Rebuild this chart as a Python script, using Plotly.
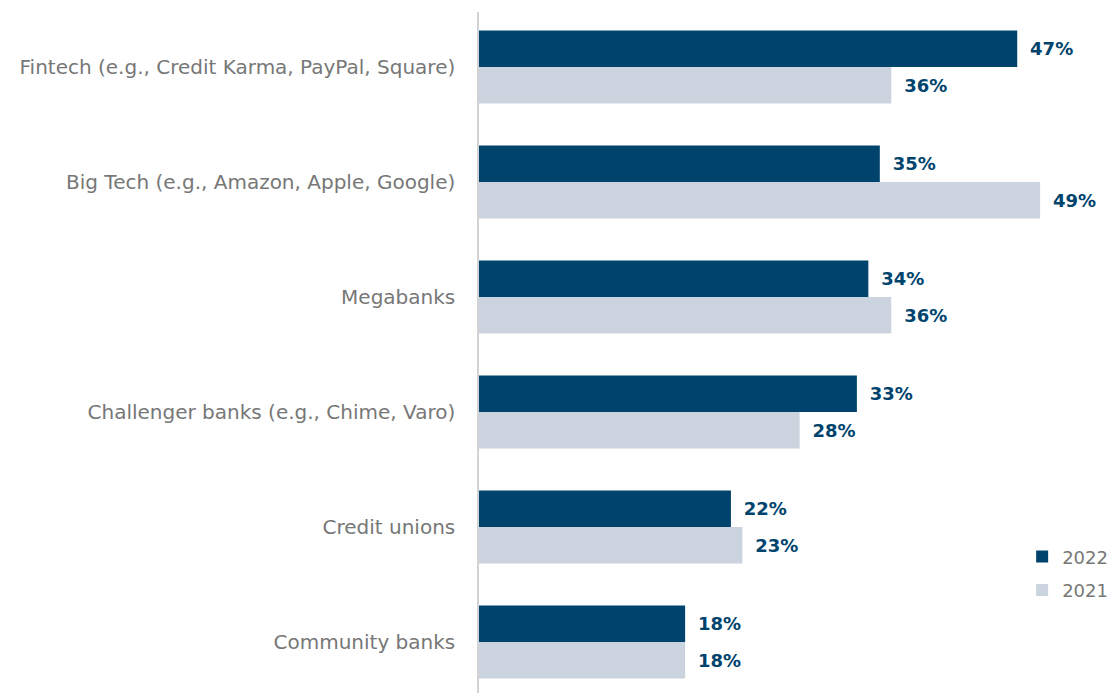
import plotly.graph_objects as go

categories = [
    "Fintech (e.g., Credit Karma, PayPal, Square)",
    "Big Tech (e.g., Amazon, Apple, Google)",
    "Megabanks",
    "Challenger banks (e.g., Chime, Varo)",
    "Credit unions",
    "Community banks",
]
values_2022 = [47, 35, 34, 33, 22, 18]
values_2021 = [36, 49, 36, 28, 23, 18]

NAVY = "#00446E"
LIGHT = "#CBD4DE"
FONT = "DejaVu Sans"

fig = go.Figure()
fig.add_trace(go.Bar(
    y=categories, x=values_2022, name="2022", orientation="h",
    legendgroup="a",
    marker=dict(color=NAVY, line=dict(width=0)),
    text=[f" \u2009{v}%" for v in values_2022], textposition="outside",
    textfont=dict(family=FONT, size=18, color=NAVY, weight="bold"),
    cliponaxis=False,
))
fig.add_trace(go.Bar(
    y=categories, x=values_2021, name="2021", orientation="h",
    legendgroup="b",
    marker=dict(color=LIGHT, line=dict(width=0)),
    text=[f" \u2009{v}%" for v in values_2021], textposition="outside",
    textfont=dict(family=FONT, size=18, color=NAVY, weight="bold"),
    cliponaxis=False,
))

fig.update_layout(
    width=1110, height=685,
    margin=dict(l=471, r=0, t=4, b=0, autoexpand=False),
    barmode="group", bargap=0.365, bargroupgap=0,
    plot_bgcolor="white", paper_bgcolor="white",
    font=dict(family=FONT, color="#777777"),
    showlegend=True,
    legend=dict(x=0.85, y=0.227, xanchor="left", yanchor="top",
                font=dict(family=FONT, size=18, color="#777777"),
                traceorder="grouped", tracegroupgap=7),
    xaxis=dict(range=[0, 55.8], showgrid=False, zeroline=False,
               showticklabels=False, showline=False, automargin=False),
    yaxis=dict(range=[5.443, -0.478], showgrid=False, zeroline=False,
               showline=True, linecolor="#D3D3D3", linewidth=1.5,
               ticks="", ticklabelstandoff=18, automargin=False,
               tickfont=dict(family=FONT, size=20, color="#777777")),
)

fig.write_html("out.html")
